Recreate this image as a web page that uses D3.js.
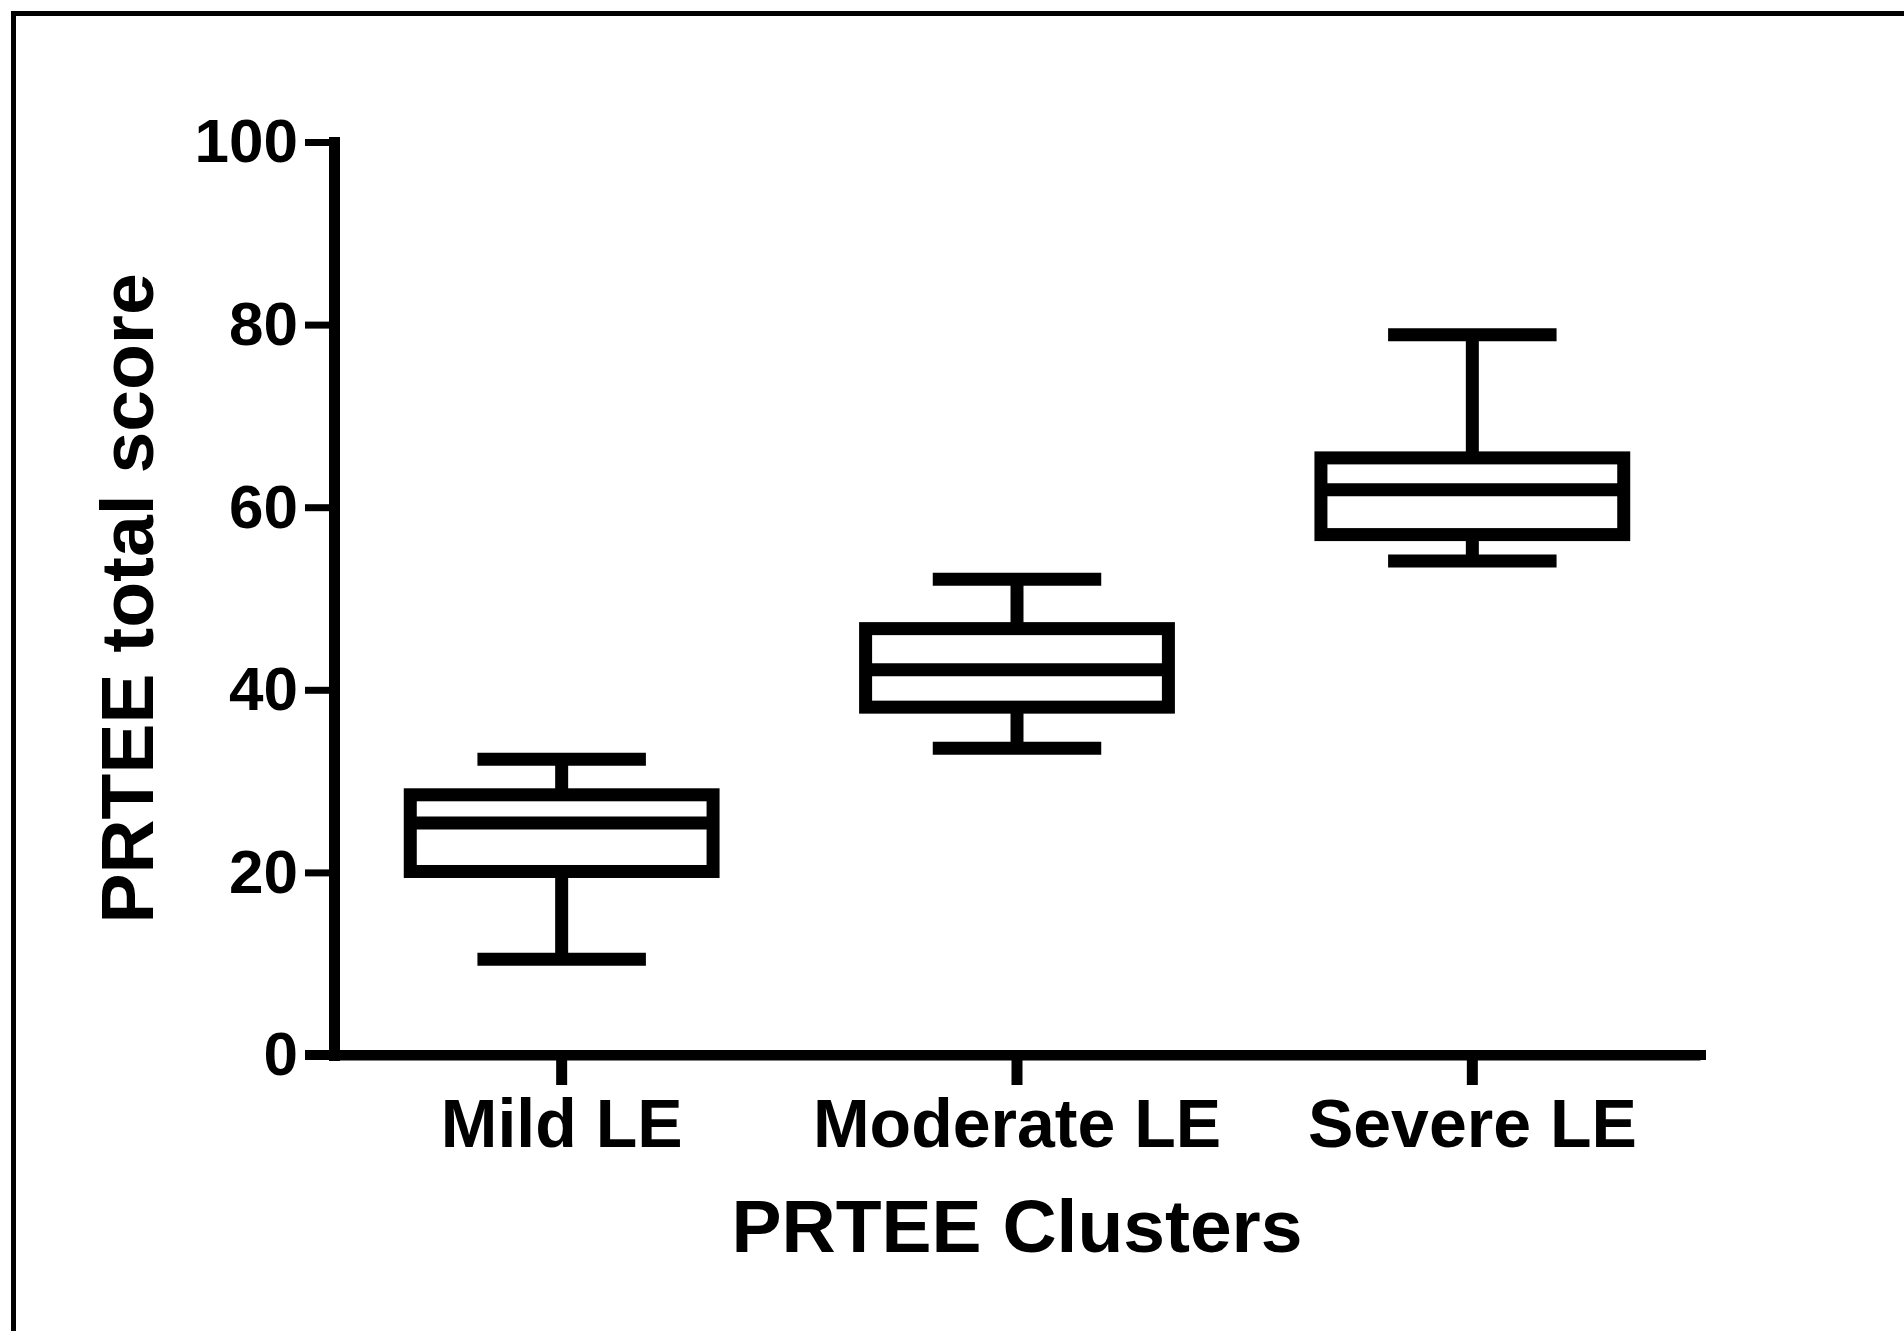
<!DOCTYPE html>
<html>
<head>
<meta charset="utf-8">
<script src="https://cdn.jsdelivr.net/npm/d3@7"></script>
<style>
  body { margin: 0; background: #fff; }
  svg { display: block; }
  text { font-family: "Liberation Sans", Arial, sans-serif; font-weight: bold; fill: #000; }
</style>
</head>
<body>
<svg id="chart"></svg>
<script>
// board size
var svg_w = 1904, svg_h = 1331;
var pad_left = 334, pad_right = 204, pad_top = 142, pad_bottom = 276;
var axis_end = 1706; // x axis line runs a bit past the last band

// data
var clusters = ["Mild LE", "Moderate LE", "Severe LE"];
var whisker_low = [10.5, 33.6, 54.1];
var q1 = [20.1, 38.1, 57.0];
var median = [25.4, 42.2, 61.9];
var q3 = [28.5, 46.7, 65.4];
var whisker_high = [32.4, 52.1, 78.9];
var y_ticks = [0, 20, 40, 60, 80, 100];
var y_domain = [0, 100];
var y_title = "PRTEE total score";
var x_title = "PRTEE Clusters";

var line_w = 13; // stroke of boxes and whiskers

var svg = d3.select("#chart").attr("width", svg_w).attr("height", svg_h);

// frame (only left and top edges are visible)
svg.append("path")
  .attr("d", "M13.5," + svg_h + "V13.5H" + svg_w)
  .attr("fill", "none").attr("stroke", "#000").attr("stroke-width", 5);

var x_scale = d3.scaleBand().domain(clusters).range([pad_left, svg_w - pad_right]);
var y_scale = d3.scaleLinear().domain(y_domain).range([svg_h - pad_bottom, pad_top]);

// y axis
var y_axis = d3.axisLeft(y_scale).tickValues(y_ticks).tickSize(29).tickSizeOuter(0).tickPadding(7);
var gy = svg.append("g").attr("transform", "translate(" + pad_left + ",0)").call(y_axis);
gy.select(".domain").attr("stroke-width", 11).attr("stroke-linecap", "square");
gy.selectAll(".tick line").attr("stroke-width", 7);
gy.selectAll(".tick text").attr("font-size", 62).attr("font-family", null);

// x axis
var x_axis = d3.axisBottom(x_scale).tickSize(30).tickSizeOuter(0).tickPadding(14);
var gx = svg.append("g").attr("transform", "translate(0," + y_scale(0) + ")").call(x_axis);
gx.select(".domain").attr("stroke-width", 10);
gx.selectAll(".tick line").attr("stroke-width", 11);
gx.selectAll(".tick text").attr("font-size", 68).attr("font-family", null);
// stretch x axis left under the 0 tick and right to its end
gx.append("line").attr("x1", pad_left - 29).attr("x2", axis_end)
  .attr("stroke", "#000").attr("stroke-width", 10);

// box plots
var box_w = x_scale.bandwidth() * 0.665;
var cap_w = x_scale.bandwidth() * 0.37;
var boxes = clusters.map(function(c, i) {
  return {name: c, lo: whisker_low[i], q1: q1[i], med: median[i], q3: q3[i], hi: whisker_high[i]};
});

var box_g = svg.append("g").attr("stroke", "#000").attr("stroke-width", line_w).attr("fill", "none");
boxes.forEach(function(d) {
  var cx = x_scale(d.name) + x_scale.bandwidth() / 2;
  var g = box_g.append("g").attr("class", "box");
  // whiskers
  draw_line(g, cx, cx, y_scale(d.q3), y_scale(d.hi));
  draw_line(g, cx, cx, y_scale(d.q1), y_scale(d.lo));
  draw_line(g, cx - cap_w / 2, cx + cap_w / 2, y_scale(d.hi), y_scale(d.hi));
  draw_line(g, cx - cap_w / 2, cx + cap_w / 2, y_scale(d.lo), y_scale(d.lo));
  // box
  g.append("rect")
    .attr("x", cx - box_w / 2).attr("width", box_w)
    .attr("y", y_scale(d.q3)).attr("height", y_scale(d.q1) - y_scale(d.q3))
    .attr("fill", "#fff");
  // median
  draw_line(g, cx - box_w / 2, cx + box_w / 2, y_scale(d.med), y_scale(d.med));
});

// axis titles
var y_mid = (y_scale.range()[0] + y_scale.range()[1]) / 2;
svg.append("text")
  .attr("transform", "translate(153," + y_mid + ") rotate(-90)")
  .attr("text-anchor", "middle").attr("font-size", 75)
  .text(y_title);
svg.append("text")
  .attr("x", (x_scale.range()[0] + x_scale.range()[1]) / 2).attr("y", 1252)
  .attr("text-anchor", "middle").attr("font-size", 75)
  .text(x_title);

function draw_line(p_obj, x1, x2, y1, y2) {
  return p_obj.append("line")
    .attr("x1", x1).attr("x2", x2).attr("y1", y1).attr("y2", y2);
}
</script>
</body>
</html>
